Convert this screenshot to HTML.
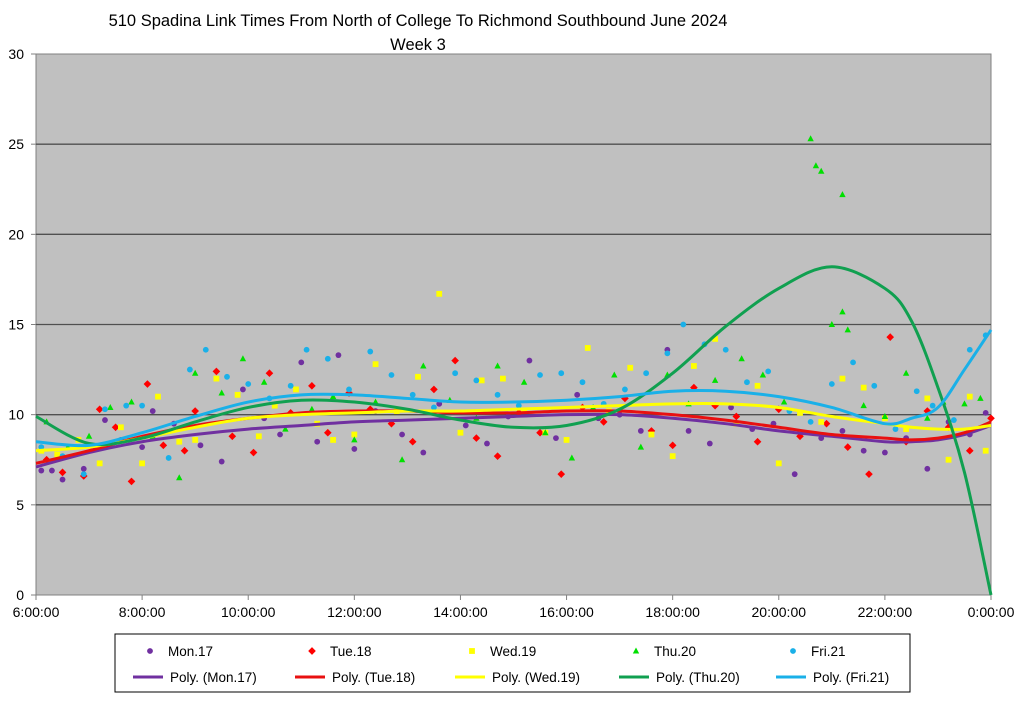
<!DOCTYPE html>
<html><head><meta charset="utf-8"><style>
body{margin:0;background:#fff;font-family:"Liberation Sans",sans-serif;}
svg text{font-family:"Liberation Sans",sans-serif;}
</style></head><body>
<svg id="chart" width="1024" height="696" xmlns="http://www.w3.org/2000/svg">
<text x="418" y="26" font-size="16.5" text-anchor="middle">510 Spadina Link Times From North of College To Richmond Southbound June 2024</text>
<text x="418" y="50" font-size="16.5" text-anchor="middle">Week 3</text>
<rect x="36" y="54" width="955" height="541" fill="#c0c0c0" stroke="#808080"/>
<g id="grid"></g><g id="axes"></g><g id="pts"></g><g id="trends"></g>
<g>
<rect x="115" y="634" width="795" height="58" fill="#fff" stroke="#000" stroke-width="1"/>
<g id="legend"></g>
</g>
</svg>
<script>
const yTicks=[0,5,10,15,20,25,30];
const xTickLabels=["6:00:00","8:00:00","10:00:00","12:00:00","14:00:00","16:00:00","18:00:00","20:00:00","22:00:00","0:00:00"];
const xTickHours=[6,8,10,12,14,16,18,20,22,24];
const seriesNames=["Mon.17","Tue.18","Wed.19","Thu.20","Fri.21"];
const seriesColors=["#7030a0","#ff0000","#ffff00","#00e000","#1ab0e8"];
const trendColors=["#7030a0","#e81010","#ffff00","#10a050","#1ab0e8"];
const trendHours=[6,7,8,9,10,11,12,13,14,15,16,17,18,19,20,21,22,22.5,23,23.5,24];
const monTrend=[7.1,7.9,8.5,8.9,9.2,9.4,9.6,9.7,9.8,9.9,10.0,10.0,9.8,9.5,9.1,8.8,8.5,8.5,8.6,8.9,9.4];
const tueTrend=[7.3,8.0,8.8,9.4,9.8,10.1,10.2,10.2,10.1,10.1,10.2,10.2,10.0,9.7,9.3,8.9,8.7,8.6,8.7,9.0,9.6];
const wedTrend=[8.0,8.2,8.7,9.3,9.8,10.0,10.1,10.2,10.2,10.3,10.4,10.5,10.6,10.6,10.4,9.9,9.5,9.3,9.2,9.2,9.4];
const thuTrend=[9.9,8.4,8.7,9.6,10.4,10.8,10.7,10.3,9.7,9.3,9.4,10.3,12.3,14.9,17.0,18.2,17.0,15.2,11.5,6.8,0];
const friTrend=[8.5,8.3,9.0,9.9,10.7,11.1,11.1,10.9,10.7,10.7,10.8,11.0,11.3,11.3,11.0,10.4,9.5,9.8,10.4,12.5,14.7];
const trends=[monTrend,tueTrend,wedTrend,thuTrend,friTrend];
const monH=[6.1,6.3,6.5,6.9,7.3,7.6,8.0,8.2,8.6,9.1,9.5,9.9,10.3,10.6,11.0,11.3,11.7,12.0,12.4,12.9,13.3,13.6,14.1,14.5,14.9,15.3,15.8,16.2,16.6,17.0,17.4,17.9,18.3,18.7,19.1,19.5,19.9,20.3,20.8,21.2,21.6,22.0,22.4,22.8,23.2,23.6,23.9];
const monV=[6.9,6.9,6.4,7.0,9.7,8.6,8.2,10.2,9.5,8.3,7.4,11.4,9.8,8.9,12.9,8.5,13.3,8.1,10.2,8.9,7.9,10.6,9.4,8.4,9.9,13.0,8.7,11.1,9.8,10.0,9.1,13.6,9.1,8.4,10.4,9.2,9.5,6.7,8.7,9.1,8.0,7.9,8.7,7.0,9.6,8.9,10.1];
const tueH=[6.2,6.5,6.9,7.2,7.5,7.8,8.1,8.4,8.8,9.0,9.4,9.7,10.1,10.4,10.8,11.2,11.5,11.9,12.3,12.7,13.1,13.5,13.9,14.3,14.7,15.1,15.5,15.9,16.3,16.7,17.1,17.6,18.0,18.4,18.8,19.2,19.6,20.0,20.4,20.9,21.3,21.7,22.1,22.4,22.8,23.2,23.6,24.0];
const tueV=[7.5,6.8,6.6,10.3,9.3,6.3,11.7,8.3,8.0,10.2,12.4,8.8,7.9,12.3,10.1,11.6,9.0,11.2,10.3,9.5,8.5,11.4,13.0,8.7,7.7,10.1,9.0,6.7,10.4,9.6,10.9,9.1,8.3,11.5,10.5,9.9,8.5,10.3,8.8,9.5,8.2,6.7,14.3,8.5,10.2,9.3,8.0,9.8];
const wedH=[6.1,6.4,6.8,7.2,7.6,8.0,8.3,8.7,9.0,9.4,9.8,10.2,10.5,10.9,11.3,11.6,12.0,12.4,12.8,13.2,13.6,14.0,14.4,14.8,15.2,15.6,16.0,16.4,16.8,17.2,17.6,18.0,18.4,18.8,19.2,19.6,20.0,20.4,20.8,21.2,21.6,22.0,22.4,22.8,23.2,23.6,23.9];
const wedV=[8.0,7.8,8.6,7.3,9.3,7.3,11.0,8.5,8.6,12.0,11.1,8.8,10.5,11.4,9.5,8.6,8.9,12.8,10.2,12.1,16.7,9.0,11.9,12.0,10.2,9.0,8.6,13.7,10.2,12.6,8.9,7.7,12.7,14.2,9.5,11.6,7.3,10.1,9.6,12.0,11.5,9.8,9.2,10.9,7.5,11.0,8.0];
const thuH=[6.2,6.6,7.0,7.4,7.8,8.2,8.7,9.0,9.5,9.9,10.3,10.7,11.2,11.6,12.0,12.4,12.9,13.3,13.8,14.3,14.7,15.2,15.6,16.1,16.5,16.9,17.4,17.9,18.3,18.8,19.3,19.7,20.1,20.6,20.7,20.8,21.0,21.2,21.2,21.3,21.6,22.0,22.4,22.8,23.1,23.5,23.8];
const thuV=[9.6,8.2,8.8,10.4,10.7,8.8,6.5,12.3,11.2,13.1,11.8,9.2,10.3,11.0,8.6,10.7,7.5,12.7,10.8,9.8,12.7,11.8,9.0,7.6,10.4,12.2,8.2,12.2,10.6,11.9,13.1,12.2,10.7,25.3,23.8,23.5,15.0,22.2,15.7,14.7,10.5,9.9,12.3,9.8,10.7,10.6,10.9];
const friH=[6.1,6.5,6.9,7.3,7.7,8.0,8.5,8.9,9.2,9.6,10.0,10.4,10.8,11.1,11.5,11.9,12.3,12.7,13.1,13.5,13.9,14.3,14.7,15.1,15.5,15.9,16.3,16.7,17.1,17.5,17.9,18.2,18.6,19.0,19.4,19.8,20.2,20.6,21.0,21.4,21.8,22.2,22.6,22.9,23.3,23.6,23.9];
const friV=[8.2,7.7,6.7,10.3,10.5,10.5,7.6,12.5,13.6,12.1,11.7,10.9,11.6,13.6,13.1,11.4,13.5,12.2,11.1,10.4,12.3,11.9,11.1,10.5,12.2,12.3,11.8,10.6,11.4,12.3,13.4,15.0,13.9,13.6,11.8,12.4,10.2,9.6,11.7,12.9,11.6,9.2,11.3,10.5,9.7,13.6,14.4];
const ptsH=[monH,tueH,wedH,thuH,friH];
const ptsV=[monV,tueV,wedV,thuV,friV];

const X0=36,X1=991,Y0=595,Y1=54;
function xs(h){return X0+(h-6)/18*(X1-X0);}
function ys(v){return Y0-v/30*(Y0-Y1);}
const NS="http://www.w3.org/2000/svg";
function mk(tag,parent,attrs){const e=document.createElementNS(NS,tag);for(const k in attrs)e.setAttribute(k,attrs[k]);parent.appendChild(e);return e;}
const grid=document.getElementById('grid'),axes=document.getElementById('axes');
yTicks.forEach(t=>{
  if(t>0&&t<30){const l=mk('line',grid,{x1:X0,x2:X1,y1:ys(t),y2:ys(t),stroke:'#505050','stroke-width':1.3});
  
  }
  const tk=mk('line',axes,{x1:X0-5,x2:X0,y1:ys(t),y2:ys(t),stroke:'#808080'});
  const tx=mk('text',axes,{x:24,y:ys(t)+5,'font-size':14,'text-anchor':'end'});tx.textContent=t;
  
  
});
xTickHours.forEach((h,i)=>{
  mk('line',axes,{x1:xs(h),x2:xs(h),y1:Y0,y2:Y0+5,stroke:'#808080'});
  const tx=mk('text',axes,{x:xs(h),y:Y0+22,'font-size':14,'text-anchor':'middle'});tx.textContent=xTickLabels[i];
  
  
});
const pts=document.getElementById('pts');
function marker(g,s,x,y){
  const c=seriesColors[s];let e;
  if(s===0||s===4)e=mk('circle',g,{cx:x,cy:y,r:2.9,fill:c});
  else if(s===1)e=mk('rect',g,{x:x-2.7,y:y-2.7,width:5.4,height:5.4,fill:c,transform:`rotate(45 ${x} ${y})`});
  else if(s===2)e=mk('rect',g,{x:x-2.9,y:y-2.9,width:5.8,height:5.8,fill:c});
  else e=mk('polygon',g,{points:`${x},${y-3.5} ${x-3.2},${y+2.5} ${x+3.2},${y+2.5}`,fill:c});
  return e;
}
ptsH.forEach((H,s)=>{H.forEach((h,i)=>{
  const e=marker(pts,s,xs(h),ys(ptsV[s][i]));
  
  
});});
function smooth(P){let d=`M${P[0][0]},${P[0][1]}`;
  for(let i=0;i<P.length-1;i++){const p0=P[Math.max(0,i-1)],p1=P[i],p2=P[i+1],p3=P[Math.min(P.length-1,i+2)];
  d+=` C${p1[0]+(p2[0]-p0[0])/6},${p1[1]+(p2[1]-p0[1])/6} ${p2[0]-(p3[0]-p1[0])/6},${p2[1]-(p3[1]-p1[1])/6} ${p2[0]},${p2[1]}`;}
  return d;}
const tg=document.getElementById('trends');
trends.forEach((T,s)=>{
  const P=trendHours.map((h,i)=>[xs(h),ys(T[i])]);
  const p=mk('path',tg,{d:smooth(P),fill:'none',stroke:trendColors[s],'stroke-width':3});
  
  
});
const lg=document.getElementById('legend');
const mx=[150,312,472,636,793];
seriesNames.forEach((n,s)=>{
  const m=marker(lg,s,mx[s],651);
  
  
  const t=mk('text',lg,{x:mx[s]+18,y:656,'font-size':13.5});t.textContent=n;
  
  
  const lx=mx[s]-17;
  const l=mk('line',lg,{x1:lx,x2:lx+30,y1:677,y2:677,stroke:trendColors[s],'stroke-width':3});
  
  
  const t2=mk('text',lg,{x:lx+37,y:682,'font-size':13.5});t2.textContent='Poly. ('+n+')';
  
  
});
</script>
</body></html>
